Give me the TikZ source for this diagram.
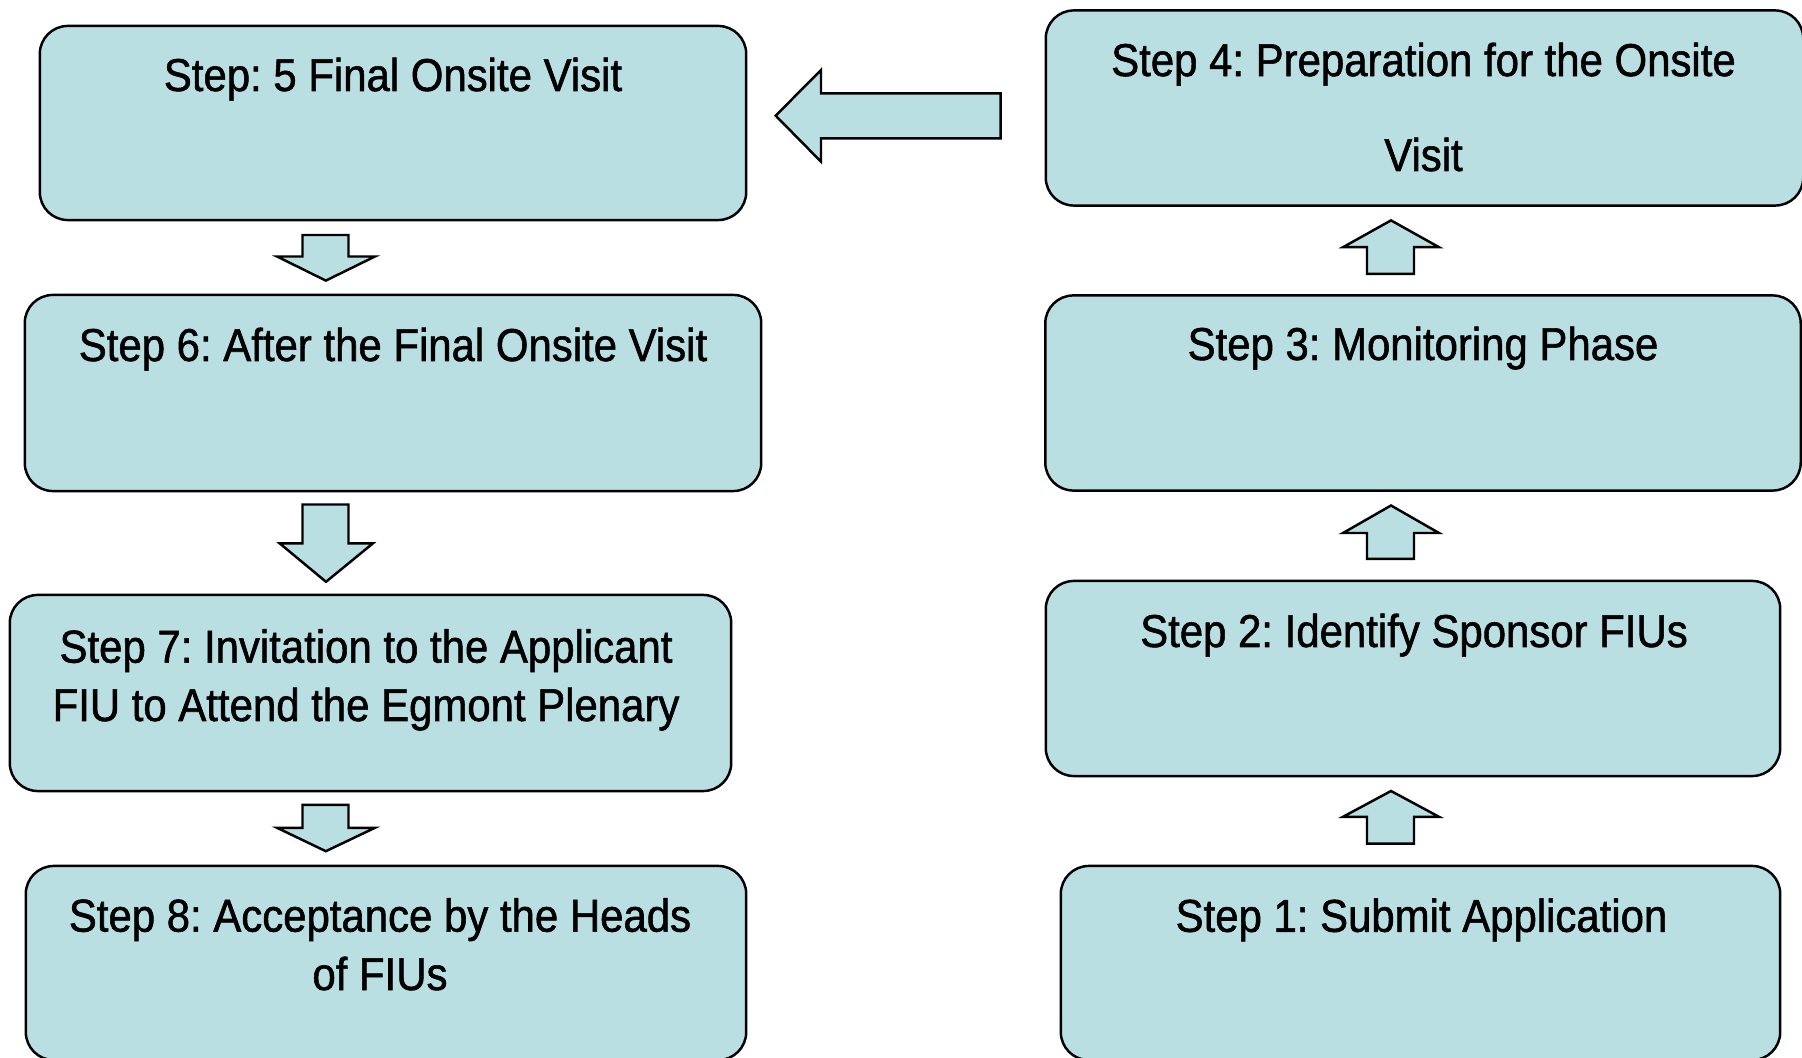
\documentclass[tikz,border=0pt]{standalone}
\usepackage{fontspec}
\setmainfont{Liberation Sans}[FakeStretch=0.91,FakeBold=1.2]
\frenchspacing
\definecolor{boxfill}{RGB}{186,223,227}
\tikzset{
  stepbox/.style={draw=black, line width=0.7pt, fill=boxfill, rounded corners=0.28cm, inner sep=0pt},
  steptext/.style={anchor=base, align=center, inner sep=0pt, font=\fontsize{13.1}{16.6}\selectfont},
  blockarrow/.style={draw=black, line width=0.7pt, fill=boxfill, line join=miter}
}
\begin{document}
\begin{tikzpicture}[x=0.01cm, y=-0.01cm]
\useasboundingbox (0,0) rectangle (1802,1058);
% boxes
\node[stepbox, minimum width=7.06cm, minimum height=1.94cm] (b5) at (393,123) {};
\node[stepbox, minimum width=7.36cm, minimum height=1.96cm] (b6) at (393,393) {};
\node[stepbox, minimum width=7.21cm, minimum height=1.96cm] (b7) at (370.5,693) {};
\node[stepbox, minimum width=7.20cm, minimum height=1.94cm] (b8) at (386,963) {};
\node[stepbox, minimum width=7.57cm, minimum height=1.95cm] (b4) at (1424.5,108) {};
\node[stepbox, minimum width=7.55cm, minimum height=1.95cm] (b3) at (1423,393) {};
\node[stepbox, minimum width=7.34cm, minimum height=1.95cm] (b2) at (1413,678.5) {};
\node[stepbox, minimum width=7.19cm, minimum height=1.94cm] (b1) at (1420.5,963) {};
% texts (base anchor = baseline of the last line)
\node[steptext] (t5) at (393,91) {Step: 5 Final Onsite Visit};
\node[steptext] (t6) at (393,361) {Step 6: After the Final Onsite Visit};
\node[steptext] (t7) at (366,721) {Step 7: Invitation to the Applicant\\FIU to Attend the Egmont Plenary};
\node[steptext] (t8) at (380,990) {Step 8: Acceptance by the Heads\\of FIUs};
\node[steptext, font=\fontsize{13.1}{27}\selectfont] (t4) at (1423.5,171) {Step 4: Preparation for the Onsite\\Visit};
\node[steptext] (t3) at (1423,360) {Step 3: Monitoring Phase};
\node[steptext] (t2) at (1414,647) {Step 2: Identify Sponsor FIUs};
\node[steptext] (t1) at (1421.5,931.8) {Step 1: Submit Application};
% left block arrow (4 -> 5)
\draw[blockarrow] (775.7,115.7) -- (821,70) -- (821,93.3) -- (1000.7,93.3) -- (1000.7,138.3) -- (821,138.3) -- (821,161.7) -- cycle;
% down block arrows
\draw[blockarrow] (302.5,235) -- (348.5,235) -- (348.5,256.5) -- (375,256.5) -- (325.8,280.6) -- (277,256.5) -- (302.5,256.5) -- cycle;
\draw[blockarrow] (302.5,504.5) -- (348.5,504.5) -- (348.5,543.3) -- (373,543.3) -- (326,581.8) -- (279.6,543.3) -- (302.5,543.3) -- cycle;
\draw[blockarrow] (302.5,804.8) -- (348.5,804.8) -- (348.5,827.8) -- (375,827.8) -- (325.8,851.2) -- (277,827.8) -- (302.5,827.8) -- cycle;
% up block arrows
\draw[blockarrow] (1367,273.8) -- (1414,273.8) -- (1414,247.2) -- (1439,247.2) -- (1391,220.4) -- (1343,247.2) -- (1367,247.2) -- cycle;
\draw[blockarrow] (1367,558.8) -- (1414,558.8) -- (1414,533) -- (1439,533) -- (1391,505.5) -- (1343,533) -- (1367,533) -- cycle;
\draw[blockarrow] (1367,843.6) -- (1414,843.6) -- (1414,816.8) -- (1439,816.8) -- (1391,791) -- (1343,816.8) -- (1367,816.8) -- cycle;
\end{tikzpicture}
\end{document}
